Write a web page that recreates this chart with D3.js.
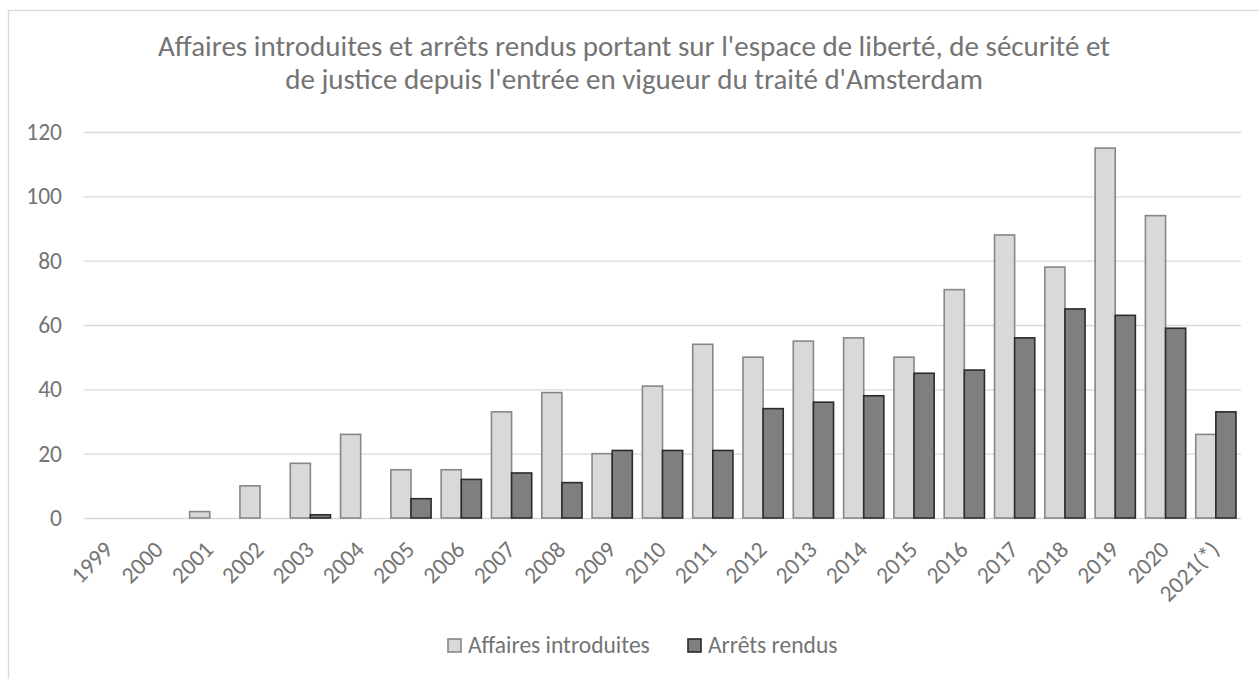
<!DOCTYPE html>
<html>
<head>
<meta charset="utf-8">
<script src="https://cdn.jsdelivr.net/npm/d3@7"></script>
<style>
body { margin: 0; background: #fff; }
svg text { font-family: Calibri, Carlito, "Open Sans", sans-serif; fill: #747474; }
</style>
</head>
<body>
<svg id="chart"></svg>
<script>
var years = ["1999","2000","2001","2002","2003","2004","2005","2006","2007","2008","2009","2010",
             "2011","2012","2013","2014","2015","2016","2017","2018","2019","2020","2021(*)"];
var introduites = [0,0,2,10,17,26,15,15,33,39,20,41,54,50,55,56,50,71,88,78,115,94,26];
var rendus = [0,0,0,0,1,0,6,12,14,11,21,21,21,34,36,38,45,46,56,65,63,59,33];
var seriesNames = ["Affaires introduites", "Arrêts rendus"];
var yTicks = [0,20,40,60,80,100,120];
var titleLines = ["Affaires introduites et arrêts rendus portant sur l'espace de liberté, de sécurité et",
                  "de justice depuis l'entrée en vigueur du traité d'Amsterdam"];

var screen = {width: 1259, height: 679};
var plot = {left: 84, right: 1241, top: 132, bottom: 518};
var fills = ["#d9d9d9", "#7f7f7f"];
var strokes = ["#878787", "#2b2b2b"];

var svg = d3.select("#chart")
    .attr("width", screen.width)
    .attr("height", screen.height);

// chart frame
svg.append("rect")
    .attr("x", 8.5).attr("y", 10.5)
    .attr("width", 1260).attr("height", 700)
    .attr("fill", "none")
    .attr("stroke", "#d9d9d9")
    .attr("stroke-width", 1.3);

// title
svg.append("text")
    .attr("x", 634)
    .attr("y", 56)
    .attr("text-anchor", "middle")
    .style("font-size", "29px")
    .selectAll("tspan")
    .data(titleLines)
    .enter()
    .append("tspan")
    .attr("x", 634)
    .attr("dy", function(d, i){ return i == 0 ? 0 : 33; })
    .text(function(d){ return d; });

var xScale = d3.scaleBand().domain(years).range([plot.left, plot.right]);
var bw = xScale.bandwidth();
var x1 = d3.scaleBand().domain([0, 1]).range([bw * 0.1, bw * 0.9]);
var yScale = d3.scaleLinear().domain([0, 120]).range([plot.bottom, plot.top]);

// gridlines
var yAxis = d3.axisLeft(yScale)
    .tickValues(yTicks)
    .tickSize(-(plot.right - plot.left))
    .tickPadding(22);

var gy = svg.append("g")
    .attr("transform", "translate(" + plot.left + ",0)")
    .call(yAxis);
gy.select(".domain").remove();
gy.selectAll("line").attr("stroke", "#d9d9d9").attr("stroke-width", 1.3);
gy.selectAll("text")
    .style("font-size", "23.5px")
    .attr("fill", "#747474");

// bars
var table = years.map(function(y, i){
    return {year: y, values: [introduites[i], rendus[i]]};
});

var groups = svg.append("g")
    .selectAll("g")
    .data(table)
    .enter()
    .append("g")
    .attr("transform", function(d){ return "translate(" + xScale(d.year) + ",0)"; });

groups.selectAll("rect")
    .data(function(d){
        return d.values.map(function(v, k){ return {k: k, v: v}; }).filter(function(e){ return e.v > 0; });
    })
    .enter()
    .append("rect")
    .attr("x", function(e){ return x1(e.k); })
    .attr("width", x1.bandwidth())
    .attr("y", function(e){ return yScale(e.v); })
    .attr("height", function(e){ return yScale(0) - yScale(e.v); })
    .attr("fill", function(e){ return fills[e.k]; })
    .attr("stroke", function(e){ return strokes[e.k]; })
    .attr("stroke-width", 1.6);

// x axis labels
var xAxis = d3.axisBottom(xScale).tickSize(0).tickPadding(0);
var gx = svg.append("g")
    .attr("transform", "translate(0," + plot.bottom + ")")
    .call(xAxis);
gx.select(".domain").remove();
gx.selectAll("text")
    .style("font-size", "23.5px")
    .attr("fill", "#747474")
    .attr("text-anchor", "end")
    .attr("dy", 0)
    .attr("y", 0)
    .attr("transform", "translate(5,33) rotate(-45)");

// legend
var legendX = [448, 688];
var legend = svg.append("g")
    .selectAll("g")
    .data(seriesNames)
    .enter()
    .append("g")
    .attr("transform", function(d, i){ return "translate(" + legendX[i] + ",639)"; });

legend.append("rect")
    .attr("width", 13).attr("height", 13)
    .attr("fill", function(d, i){ return fills[i]; })
    .attr("stroke", function(d, i){ return strokes[i]; })
    .attr("stroke-width", 1.6);

legend.append("text")
    .attr("x", 20)
    .attr("y", 14)
    .style("font-size", "23.5px")
    .text(function(d){ return d; });
</script>
</body>
</html>
